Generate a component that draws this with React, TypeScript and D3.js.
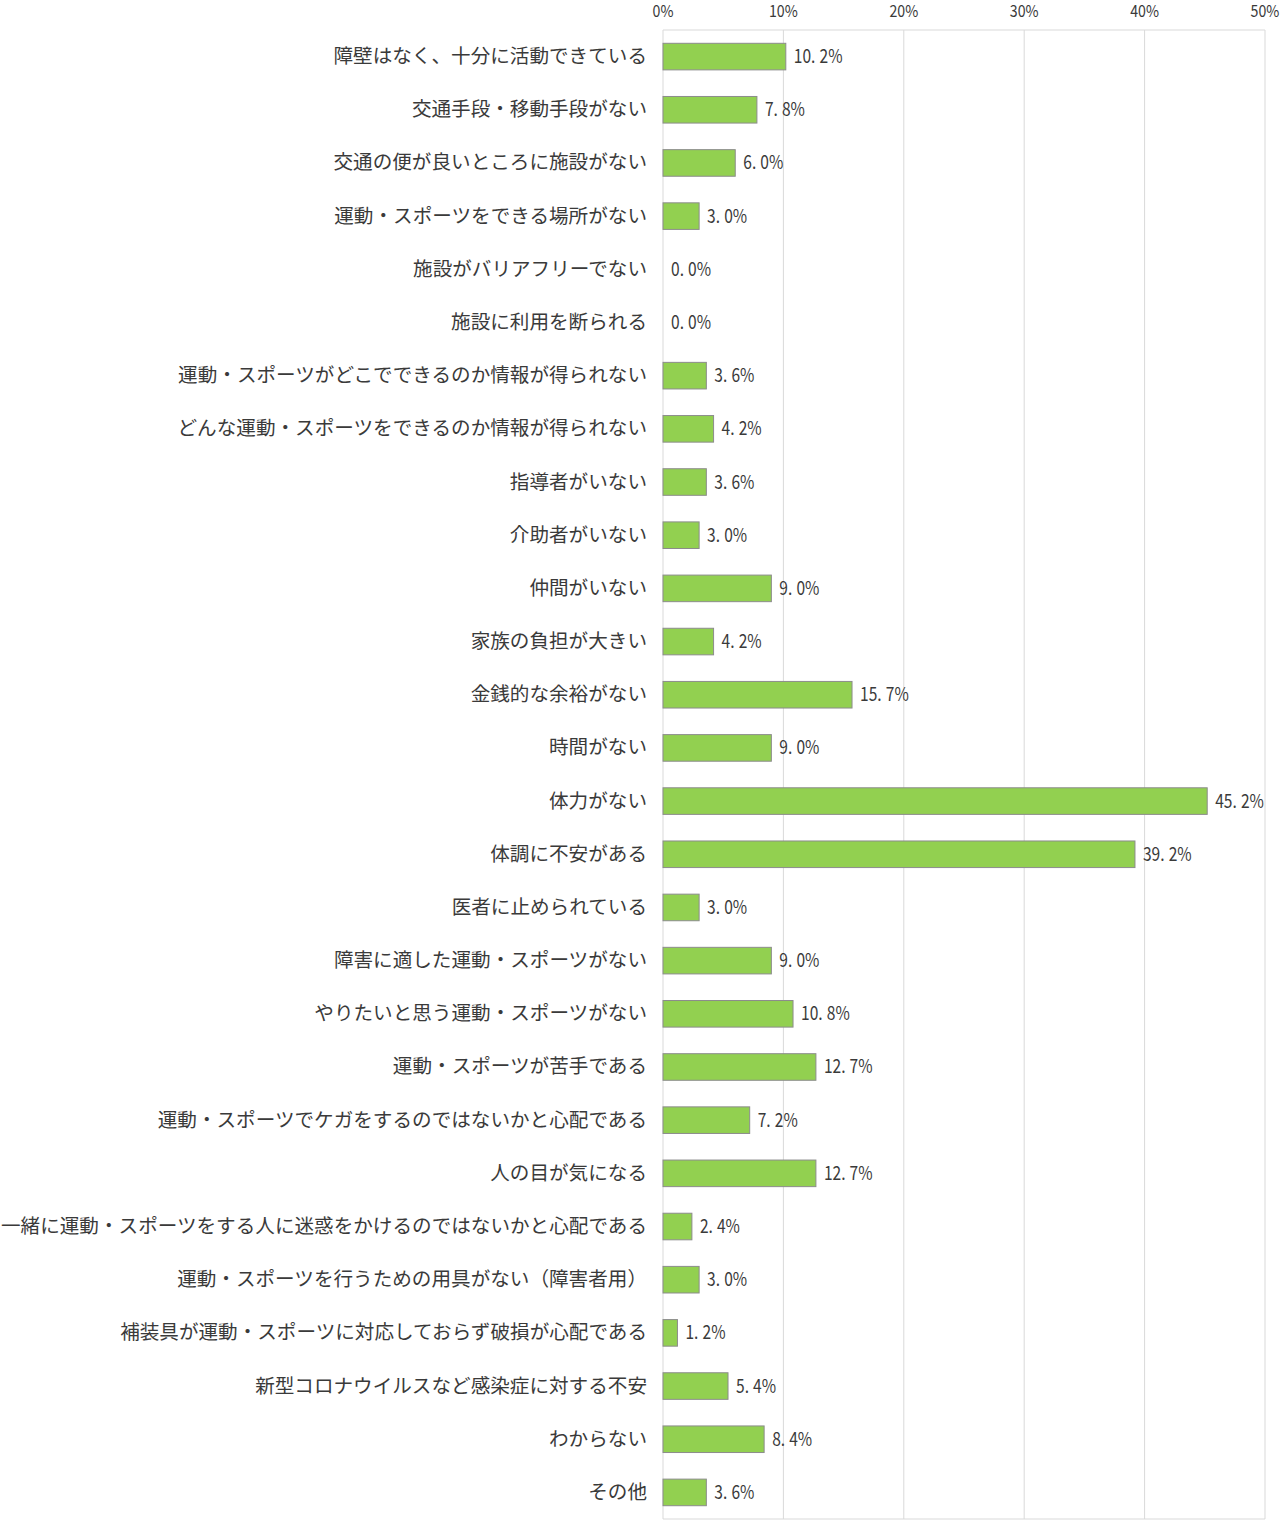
import React from "react";
import * as d3 from "d3";

const categories = [
  "障壁はなく、十分に活動できている",
  "交通手段・移動手段がない",
  "交通の便が良いところに施設がない",
  "運動・スポーツをできる場所がない",
  "施設がバリアフリーでない",
  "施設に利用を断られる",
  "運動・スポーツがどこでできるのか情報が得られない",
  "どんな運動・スポーツをできるのか情報が得られない",
  "指導者がいない",
  "介助者がいない",
  "仲間がいない",
  "家族の負担が大きい",
  "金銭的な余裕がない",
  "時間がない",
  "体力がない",
  "体調に不安がある",
  "医者に止められている",
  "障害に適した運動・スポーツがない",
  "やりたいと思う運動・スポーツがない",
  "運動・スポーツが苦手である",
  "運動・スポーツでケガをするのではないかと心配である",
  "人の目が気になる",
  "一緒に運動・スポーツをする人に迷惑をかけるのではないかと心配である",
  "運動・スポーツを行うための用具がない（障害者用）",
  "補装具が運動・スポーツに対応しておらず破損が心配である",
  "新型コロナウイルスなど感染症に対する不安",
  "わからない",
  "その他",
];

const values = [
  10.2, 7.8, 6.0, 3.0, 0.0, 0.0, 3.6, 4.2, 3.6, 3.0, 9.0, 4.2, 15.7, 9.0, 45.2,
  39.2, 3.0, 9.0, 10.8, 12.7, 7.2, 12.7, 2.4, 3.0, 1.2, 5.4, 8.4, 3.6,
];

const tickValues = [0, 10, 20, 30, 40, 50];

export default function App() {
  const W = 1280;
  const H = 1520;
  const left = 663;
  const right = 1265;
  const top = 30;
  const bottom = 1519;

  const x = d3.scaleLinear().domain([0, 50]).range([left, right]);
  const y = d3
    .scaleBand<string>()
    .domain(categories)
    .range([top, bottom])
    .paddingInner(0.5)
    .paddingOuter(0.25);

  const textColor = "#3a3a3a";
  const numFont = "'Noto Sans CJK JP', sans-serif";

  return (
    <svg
      width={W}
      height={H}
      style={{ position: "absolute", left: 0, top: 0, background: "#fff" }}
    >
      {/* gridlines */}
      {tickValues.map((t) => (
        <line
          key={"g" + t}
          x1={x(t)}
          x2={x(t)}
          y1={top}
          y2={bottom}
          stroke="#d9d9d9"
          strokeWidth={1}
        />
      ))}
      <line x1={left} x2={right} y1={top} y2={top} stroke="#d9d9d9" />
      <line x1={left} x2={right} y1={bottom} y2={bottom} stroke="#d9d9d9" />
      {/* tick labels */}
      {tickValues.map((t) => (
        <g key={"t" + t} transform={`translate(${x(t)},17) scale(0.86,1)`}>
          <text
            x={0}
            y={0}
            textAnchor="middle"
            fontFamily={numFont}
            fontSize={16.5}
            fill={textColor}
          >
            {t}%
          </text>
        </g>
      ))}
      {/* bars */}
      {categories.map((c, i) => {
        const y0 = y(c)!;
        const bw = y.bandwidth();
        const cy = y0 + bw / 2;
        const v = values[i];
        const xe = x(v);
        const lx = xe + 8;
        const s = v.toFixed(1);
        const [a, b] = s.split(".");
        return (
          <g key={c}>
            {v > 0 && (
              <rect
                x={left}
                y={y0}
                width={xe - left}
                height={bw}
                fill="#92d050"
                stroke="#8c8c8c"
                strokeWidth={1}
              />
            )}
            <g transform={`translate(${lx},${cy + 6.5}) scale(0.82,1)`}>
              <text
                x={0}
                y={0}
                fontFamily={numFont}
                fontSize={19}
                fill={textColor}
              >
                {a + "."}
                <tspan dx={5}>{b + "%"}</tspan>
              </text>
            </g>
            <text
              x={647}
              y={cy + 6.5}
              textAnchor="end"
              fontFamily="'Noto Sans CJK JP', sans-serif"
              fontSize={19.6}
              fill={textColor}
            >
              {c}
            </text>
          </g>
        );
      })}
    </svg>
  );
}
